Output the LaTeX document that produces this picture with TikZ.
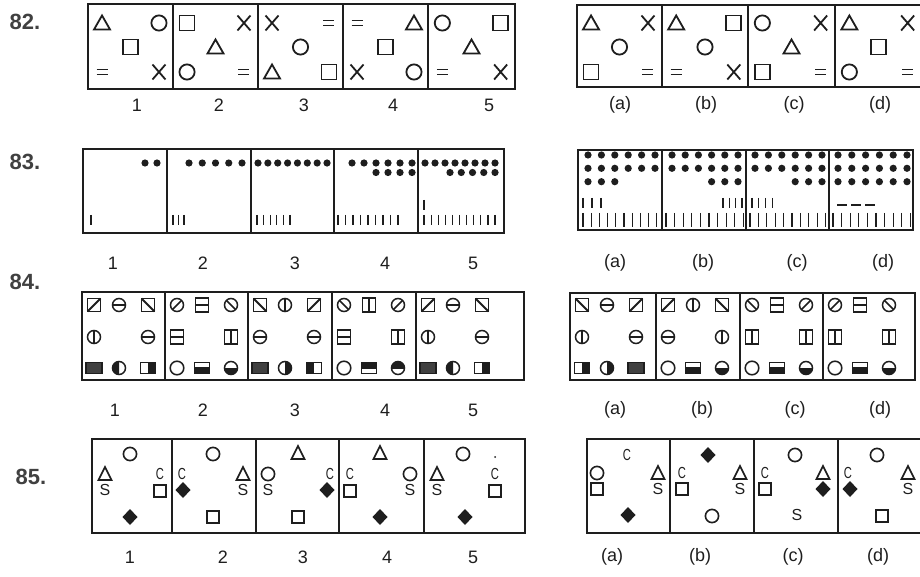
\documentclass[tikz,border=0pt]{standalone}
\usepackage{fontspec}
\usepackage{graphicx}
\setmainfont{Liberation Sans}
\definecolor{ink}{HTML}{1E1E1E}
\tikzset{
  sym/.style={draw=ink, line width=1.8pt},
  sym85/.style={draw=ink, line width=1.6pt},
  symf/.style={draw=ink, line width=1.5pt},
  frame/.style={draw=ink, line width=2pt},
  divl/.style={draw=ink, line width=1.5pt},
  stk/.style={draw=ink, line width=1.2pt},
  lbl/.style={font=\fontsize{18}{18}\selectfont, text=ink, inner sep=0pt},
  num/.style={font=\fontsize{22}{22}\selectfont\bfseries, text=ink!85, inner sep=0pt},
  sl/.style={font=\fontsize{16}{16}\selectfont, text=ink, inner sep=0pt},
  % row 82 symbols
  tri/.pic={\draw[sym, line join=miter] (-8,6.5) -- (8,6.5) -- (0,-7.5) -- cycle;},
  circ/.pic={\draw[sym] (0,0) circle (7.6);},
  sqr/.pic={\draw[sym] (-7.5,-7.5) rectangle (7.5,7.5);},
  xx/.pic={\draw[sym] (-6.5,-7.5) -- (6.5,7.5) (-6.5,7.5) -- (6.5,-7.5);},
  eqq/.pic={\draw[sym] (-5.5,-2.5) -- (5.5,-2.5) (-5.5,2.5) -- (5.5,2.5);},
  % row 84 symbols
  sqA/.pic={\draw[symf] (-6.5,-6.5) rectangle (6.5,6.5); \draw[symf, line width=1.9pt] (-6.5,6.5) -- (6.5,-6.5);},
  sqB/.pic={\draw[symf] (-6.5,-6.5) rectangle (6.5,6.5); \draw[symf, line width=1.9pt] (-6.5,-6.5) -- (6.5,6.5);},
  cH/.pic={\draw[symf] (0,0) circle (6.5); \draw[symf] (-6.5,0) -- (6.5,0);},
  cV/.pic={\draw[symf] (0,0) circle (6.5); \draw[symf] (0,-6.5) -- (0,6.5);},
  cDa/.pic={\draw[symf] (0,0) circle (6.5); \draw[symf] (-4.6,4.6) -- (4.6,-4.6);},
  cDb/.pic={\draw[symf] (0,0) circle (6.5); \draw[symf] (-4.6,-4.6) -- (4.6,4.6);},
  sH/.pic={\draw[symf] (-6.5,-7) rectangle (6.5,7); \draw[symf] (-6.5,0) -- (6.5,0);},
  sV/.pic={\draw[symf] (-6.5,-7) rectangle (6.5,7); \draw[symf] (0,-7) -- (0,7);},
  oc/.pic={\draw[symf] (0,0) circle (6.8);},
  rD/.pic={\fill[ink!85] (-8,-5.5) rectangle (8,5.5); \draw[symf] (-8,-5.5) rectangle (8,5.5);},
  rR/.pic={\fill[ink] (0,-5.5) rectangle (7.5,5.5); \draw[symf] (-7.5,-5.5) rectangle (7.5,5.5);},
  rL/.pic={\fill[ink] (-7.5,-5.5) rectangle (0,5.5); \draw[symf] (-7.5,-5.5) rectangle (7.5,5.5);},
  rB/.pic={\fill[ink] (-7.5,-1) rectangle (7.5,5.5); \draw[symf] (-7.5,-5.5) rectangle (7.5,5.5);},
  rT/.pic={\fill[ink] (-7.5,-5.5) rectangle (7.5,1); \draw[symf] (-7.5,-5.5) rectangle (7.5,5.5);},
  hL/.pic={\begin{scope}\clip (-8,-8) rectangle (0,8); \fill[ink] (0,0) circle (6.5);\end{scope}\draw[symf] (0,0) circle (6.5);},
  hR/.pic={\begin{scope}\clip (0,-8) rectangle (8,8); \fill[ink] (0,0) circle (6.5);\end{scope}\draw[symf] (0,0) circle (6.5);},
  hB/.pic={\begin{scope}\clip (-8,0) rectangle (8,8); \fill[ink] (0,0) circle (6.5);\end{scope}\draw[symf] (0,0) circle (6.5);},
  hT/.pic={\begin{scope}\clip (-8,-8) rectangle (8,0); \fill[ink] (0,0) circle (6.5);\end{scope}\draw[symf] (0,0) circle (6.5);},
  % row 85 symbols
  tri85/.pic={\draw[sym85] (-6.5,6) -- (6.5,6) -- (0,-7) -- cycle;},
  oc85/.pic={\draw[sym85] (0,0) circle (6.6);},
  sq85/.pic={\draw[sym85] (-6,-6) rectangle (6,6);},
  dia/.pic={\fill[ink] (0,-8) -- (7.5,0) -- (0,8) -- (-7.5,0) -- cycle;},
}
\newcommand{\fiveq}[7]{%
  \pgfmathsetmacro\qa{#1+0.165*#2}%
  \pgfmathsetmacro\qb{#1+0.5*#2}%
  \pgfmathsetmacro\qc{#1+0.835*#2}%
  \pic at (\qa,23) {#3}; \pic at (\qc,23) {#4}; \pic at (\qb,47) {#5};
  \pic at (\qa,72) {#6}; \pic at (\qc,72) {#7};}
\newcommand{\eightq}[8]{%
  \pic at (\cx+12,305) {#1}; \pic at (\cx+37,305) {#2}; \pic at (\cx+66,305) {#3};
  \pic at (\cx+12,337) {#4}; \pic at (\cx+66,337) {#5};
  \pic at (\cx+12,368) {#6}; \pic at (\cx+37,368) {#7}; \pic at (\cx+66,368) {#8};}
\newcommand{\dotrow}[4]{\foreach \k in {1,...,#3} {\fill[ink] ({#1+(\k-1)*#2},#4) circle (3.6);}}
\newcommand{\stickrow}[5]{\foreach \k in {1,...,#3} {\draw[stk] ({#1+(\k-1)*#2},#4) -- ({#1+(\k-1)*#2},#5);}}
\newcommand{\narrowC}{\scalebox{0.7}[1]{C}}
\begin{document}
\begin{tikzpicture}[x=1pt,y=-1pt]
\useasboundingbox (0,0) rectangle (920,577);
\clip (0,0) rectangle (920,577);
\fill[white] (0,0) rectangle (920,577);

% ---------------- problem numbers
\node[num] (n82) at (25,22) {82.};
\node[num] (n83) at (25,162) {83.};
\node[num] (n84) at (25,282) {84.};
\node[num] (n85) at (31,477) {85.};

% ---------------- row 82
\draw[frame] (88,4) rectangle (515,89);
\foreach \d in {173,258,343,428} \draw[divl] (\d,4) -- (\d,89);
\fiveq{88}{85}{tri}{circ}{sqr}{eqq}{xx}
\fiveq{173}{85}{sqr}{xx}{tri}{circ}{eqq}
\fiveq{258}{85}{xx}{eqq}{circ}{tri}{sqr}
\fiveq{343}{85}{eqq}{tri}{sqr}{xx}{circ}
\fiveq{428}{87}{circ}{sqr}{tri}{eqq}{xx}
\draw[frame] (577,5) rectangle (924,87);
\foreach \d in {662,748,835} \draw[divl] (\d,5) -- (\d,87);
\fiveq{577}{85}{tri}{xx}{circ}{sqr}{eqq}
\fiveq{662}{86}{tri}{sqr}{circ}{eqq}{xx}
\fiveq{748}{87}{circ}{xx}{tri}{sqr}{eqq}
\fiveq{835}{87}{tri}{xx}{sqr}{circ}{eqq}
\node[lbl] (l82a) at (137,105) {1};
\node[lbl] (l82b) at (219,105) {2};
\node[lbl] (l82c) at (304,105) {3};
\node[lbl] (l82d) at (393,105) {4};
\node[lbl] (l82e) at (489,105) {5};
\node[lbl] (l82f) at (620,105) {(a)};
\node[lbl] (l82g) at (706,105) {(b)};
\node[lbl] (l82h) at (794,105) {(c)};
\node[lbl] (l82i) at (880,105) {(d)};

% ---------------- row 83
\draw[frame] (83,149) rectangle (504,233);
\foreach \d in {167,251,334,418} \draw[divl] (\d,149) -- (\d,233);
\dotrow{145}{12}{2}{163}
\stickrow{91}{6}{1}{215}{225}
\dotrow{189}{13.25}{5}{163}
\stickrow{173}{5.5}{3}{215}{225}
\dotrow{258}{9.86}{8}{163}
\stickrow{257}{6.6}{6}{215}{225}
\dotrow{352}{12}{6}{163}
\dotrow{376}{12}{4}{172.5}
\stickrow{338}{7.5}{9}{215}{225}
\dotrow{425}{10}{8}{163}
\dotrow{450}{11.25}{5}{172.5}
\stickrow{424}{7.1}{11}{215}{225}
\stickrow{424}{6}{1}{200}{210}
\draw[frame] (578,150) rectangle (913,230);
\foreach \d in {662,746,829} \draw[divl] (\d,150) -- (\d,230);
% (a)
\dotrow{588}{13.4}{6}{155}\dotrow{588}{13.4}{6}{168.3}\dotrow{588}{13.4}{3}{181.7}
\stickrow{583}{9}{3}{198}{208}
\stickrow{583}{8.2}{10}{213}{227}
% (b)
\dotrow{672}{13.2}{6}{155}\dotrow{672}{13.2}{6}{168.3}\dotrow{711.6}{13.2}{3}{181.7}
\stickrow{723}{6.3}{4}{198}{208}
\stickrow{666}{8.6}{10}{213}{227}
% (c)
\dotrow{755}{13.4}{6}{155}\dotrow{755}{13.4}{6}{168.3}\dotrow{795.2}{13.4}{3}{181.7}
\stickrow{752}{6.7}{4}{198}{208}
\stickrow{750}{8.4}{10}{213}{227}
% (d)
\dotrow{838}{13.8}{6}{155}\dotrow{838}{13.8}{6}{168.3}\dotrow{838}{13.8}{6}{181.7}
\draw[stk] (837,205) -- (847,205) (851,205) -- (861,205) (865,205) -- (875,205);
\stickrow{833}{8.6}{10}{213}{227}
\node[lbl] (l83a) at (113,263) {1};
\node[lbl] (l83b) at (203,263) {2};
\node[lbl] (l83c) at (295,263) {3};
\node[lbl] (l83d) at (385,263) {4};
\node[lbl] (l83e) at (473,263) {5};
\node[lbl] (l83f) at (615,263) {(a)};
\node[lbl] (l83g) at (703,263) {(b)};
\node[lbl] (l83h) at (797,263) {(c)};
\node[lbl] (l83i) at (883,263) {(d)};

% ---------------- row 84
\draw[frame] (82,292) rectangle (524,380);
\foreach \d in {165,248,332,416} \draw[divl] (\d,292) -- (\d,380);
\def\cx{82}\eightq{sqA}{cH}{sqB}{cV}{cH}{rD}{hL}{rR}
\def\cx{165}\eightq{cDa}{sH}{cDb}{sH}{sV}{oc}{rB}{hB}
\def\cx{248}\eightq{sqB}{cV}{sqA}{cH}{cH}{rD}{hR}{rL}
\def\cx{332}\eightq{cDb}{sV}{cDa}{sH}{sV}{oc}{rT}{hT}
\def\cx{416}\eightq{sqA}{cH}{sqB}{cV}{cH}{rD}{hL}{rR}
\draw[frame] (570,293) rectangle (915,380);
\foreach \d in {656,740,823} \draw[divl] (\d,293) -- (\d,380);
\def\cx{570}\eightq{sqB}{cH}{sqA}{cV}{cH}{rR}{hR}{rD}
\def\cx{656}\eightq{sqA}{cV}{sqB}{cH}{cV}{oc}{rB}{hB}
\def\cx{740}\eightq{cDb}{sH}{cDa}{sV}{sV}{oc}{rB}{hB}
\def\cx{823}\eightq{cDa}{sH}{cDb}{sV}{sV}{oc}{rB}{hB}
\node[lbl] (l84a) at (115,410) {1};
\node[lbl] (l84b) at (203,410) {2};
\node[lbl] (l84c) at (295,410) {3};
\node[lbl] (l84d) at (385,410) {4};
\node[lbl] (l84e) at (473,410) {5};
\node[lbl] (l84f) at (615,410) {(a)};
\node[lbl] (l84g) at (702,410) {(b)};
\node[lbl] (l84h) at (795,410) {(c)};
\node[lbl] (l84i) at (880,410) {(d)};

% ---------------- row 85
\draw[frame] (92,439) rectangle (525,533);
\foreach \d in {172,256,339,424} \draw[divl] (\d,439) -- (\d,533);
% cell 1
\pic at (130,454) {oc85}; \pic at (105,474) {tri85}; \node[sl] (p1S) at (105,490) {S};
\node[sl] (p1C) at (160,474) {\narrowC}; \pic at (160,491) {sq85}; \pic at (130,517) {dia};
% cell 2
\pic at (213,454) {oc85}; \node[sl] (p2C) at (182,474) {\narrowC}; \pic at (183,490) {dia};
\pic at (243,474) {tri85}; \node[sl] (p2S) at (243,490) {S}; \pic at (213,517) {sq85};
% cell 3
\pic at (298,453) {tri85}; \pic at (268,474) {oc85}; \node[sl] (p3S) at (268,490) {S};
\node[sl] (p3C) at (330,474) {\narrowC}; \pic at (327,490) {dia}; \pic at (298,517) {sq85};
% cell 4
\pic at (380,453) {tri85}; \node[sl] (p4C) at (350,474) {\narrowC}; \pic at (350,491) {sq85};
\pic at (410,474) {oc85}; \node[sl] (p4S) at (410,490) {S}; \pic at (380,517) {dia};
% cell 5
\pic at (463,454) {oc85}; \fill[ink] (495,457) circle (1);
\pic at (437,474) {tri85}; \node[sl] (p5S) at (437,490) {S};
\node[sl] (p5C) at (495,474) {\narrowC}; \pic at (495,491) {sq85}; \pic at (465,517) {dia};
\draw[frame] (587,439) rectangle (924,533);
\foreach \d in {670,754,838} \draw[divl] (\d,439) -- (\d,533);
% (a)
\node[sl] (qaC) at (627,455) {\narrowC}; \pic at (597,473) {oc85}; \pic at (597,489) {sq85};
\pic at (658,473) {tri85}; \node[sl] (qaS) at (658,489) {S}; \pic at (628,515) {dia};
% (b)
\pic at (708,455) {dia}; \node[sl] (qbC) at (682,473) {\narrowC}; \pic at (682,489) {sq85};
\pic at (740,473) {tri85}; \node[sl] (qbS) at (740,489) {S}; \pic at (712,516) {oc85};
% (c)
\pic at (795,455) {oc85}; \node[sl] (qcC) at (765,473) {\narrowC}; \pic at (765,489) {sq85};
\pic at (823,473) {tri85}; \pic at (823,489) {dia}; \node[sl] (qcS) at (797,515) {S};
% (d)
\pic at (877,455) {oc85}; \node[sl] (qdC) at (848,473) {\narrowC}; \pic at (850,489) {dia};
\pic at (908,473) {tri85}; \node[sl] (qdS) at (908,489) {S}; \pic at (882,516) {sq85};
\node[lbl] (l85a) at (130,557) {1};
\node[lbl] (l85b) at (223,557) {2};
\node[lbl] (l85c) at (303,557) {3};
\node[lbl] (l85d) at (387,557) {4};
\node[lbl] (l85e) at (473,557) {5};
\node[lbl] (l85f) at (612,557) {(a)};
\node[lbl] (l85g) at (700,557) {(b)};
\node[lbl] (l85h) at (793,557) {(c)};
\node[lbl] (l85i) at (878,557) {(d)};
\end{tikzpicture}
\end{document}
